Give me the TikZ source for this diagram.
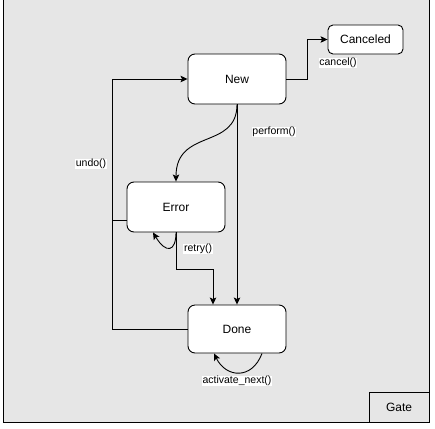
\documentclass[tikz,border=0pt]{standalone}
\usepackage{fontspec}
\setmainfont{Liberation Sans}
\usetikzlibrary{arrows.meta,calc}
\definecolor{bggray}{RGB}{230,230,230}
\begin{document}
\begin{tikzpicture}[x=1pt,y=-1pt,
  state/.style={draw,fill=white,rounded corners=7pt,line width=0.9pt,font=\fontsize{12}{14}\selectfont,inner sep=0pt},
  lbl/.style={fill=white,inner sep=0.6pt,font=\fontsize{10.5}{12}\selectfont},
  arr/.style={line width=0.9pt,-{Stealth[length=7pt,width=6.5pt,inset=1.5pt]}},
  ln/.style={line width=0.9pt}]
\useasboundingbox (0,0) rectangle (435,428);
\draw[fill=bggray,line width=1pt] (3,-2) rectangle (429,422);
\node[draw,line width=0.9pt,minimum width=60pt,minimum height=30pt,inner sep=0pt,font=\fontsize{12}{14}\selectfont] (gate) at (399,407) {Gate};
\node[state,minimum width=98pt,minimum height=50pt] (new) at (237,79) {New};
\node[state,minimum width=75pt,minimum height=29pt,rounded corners=5pt] (canceled) at (365.5,39.5) {Canceled};
\node[state,minimum width=98pt,minimum height=50pt] (error) at (176,207) {Error};
\node[state,minimum width=98pt,minimum height=48pt] (done) at (237,329) {Done};
% edges
\draw[arr] (new.east) -- ++(21,0) |- (canceled.west);
\draw[arr] (new.south) -- (done.north);
\draw[arr] (new.south) .. controls (237,150) and (176,128) .. (error.north);
\draw[arr] (error.south) -- ++(0,37) -| ($(done.north)+(-24,0)$);
\draw[arr] (error.south) .. controls (176,252) and (166,254) .. ($(error.south)+(-23,0)$);
\draw[arr] ($(done.south)+(25,0)$) .. controls (252,380) and (226,378) .. ($(done.south)+(-23,0)$);
\draw[arr] (done.west) -- ++(-75,0) |- (new.west);
\draw[ln] ($(error.west)+(0,13)$) -- ++(-14,0);
% labels
\node[lbl] (lcancel) at (338,63) {cancel()};
\node[lbl] (lperform) at (274,132) {perform()};
\node[lbl] (lretry) at (198,249) {retry()};
\node[lbl] (lundo) at (91,164) {undo()};
\node[lbl] (lact) at (237,381) {activate\_next()};
\end{tikzpicture}
\end{document}
